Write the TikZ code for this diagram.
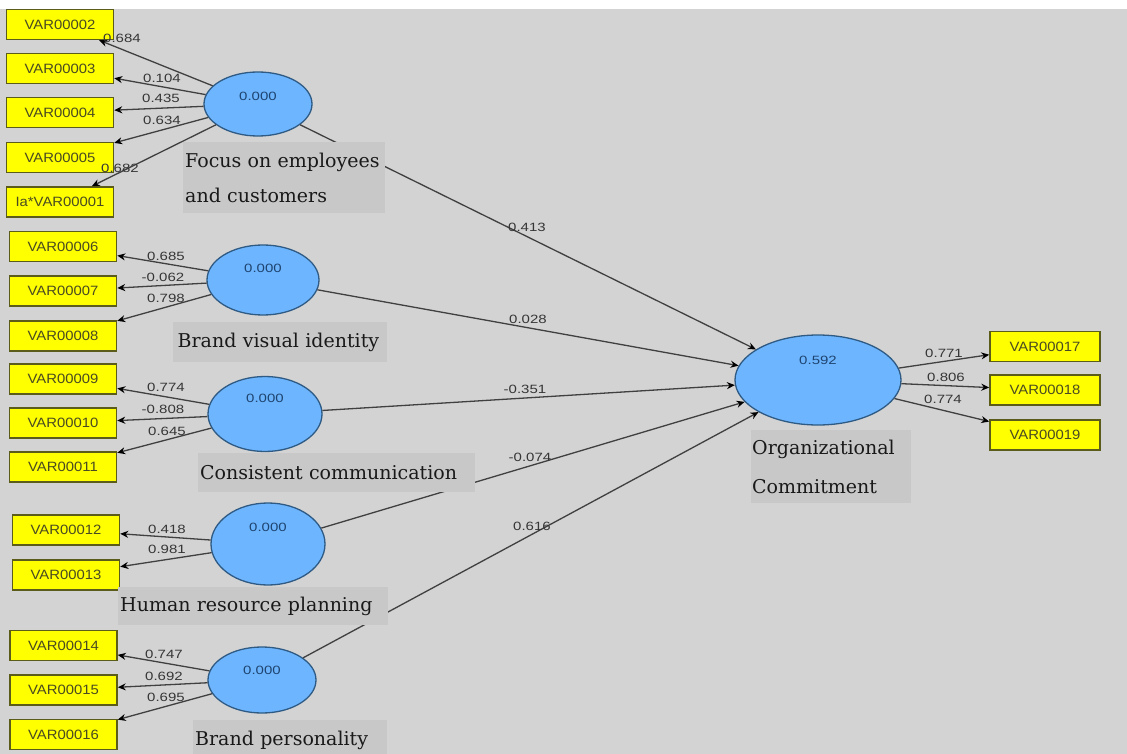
\documentclass[tikz,border=0pt]{standalone}
\usepackage{fontspec}
\setmainfont{DejaVu Serif}
\newfontfamily\numfont[FakeStretch=1.25]{Liberation Sans}
\newfontfamily\varfont[FakeStretch=1.1]{Liberation Sans}
\usetikzlibrary{arrows.meta,shapes.geometric}
\definecolor{bg}{HTML}{D3D3D3}
\definecolor{lblbg}{HTML}{C8C8C8}
\definecolor{ellfill}{HTML}{6DB6FF}
\definecolor{elldraw}{HTML}{2E5A84}
\definecolor{ylw}{HTML}{FFFF00}
\definecolor{ylwdraw}{HTML}{5C5C1A}
\definecolor{vartext}{HTML}{4A4A22}
\definecolor{edgecol}{HTML}{404040}
\definecolor{numcol}{HTML}{363636}
\definecolor{valcol}{HTML}{1F4470}
\begin{document}
\begin{tikzpicture}[x=1pt,y=-1pt,
  ind/.style={draw=ylwdraw, line width=1.5pt, fill=ylw, minimum width=107pt, minimum height=30pt,
    inner sep=0pt, text=vartext, font=\varfont\fontsize{13.5}{13.5}\selectfont},
  lat/.style={ellipse, draw=elldraw, line width=1.3pt, fill=ellfill, inner sep=0pt},
  val/.style={inner sep=0pt, text=valcol, font=\numfont\fontsize{12}{12}\selectfont},
  num/.style={inner sep=0pt, text=numcol, font=\numfont\fontsize{12}{12}\selectfont},
  conn/.style={draw=edgecol, line width=1.3pt, -{Stealth[length=8pt,width=7pt,color=black]}},
  lbox/.style={fill=lblbg, inner xsep=2pt, inner ysep=0pt, align=left, anchor=north west, text=black!90}
]
\useasboundingbox (0,0) rectangle (1127,754);
\fill[white] (0,0) rectangle (1127,754);
\fill[bg] (0,9) rectangle (1127,754);

% indicator boxes
\node[ind] (v2) at (60,24.5) {VAR00002};
\node[ind] (v3) at (60,68.5) {VAR00003};
\node[ind] (v4) at (60,112.5) {VAR00004};
\node[ind] (v5) at (60,157.5) {VAR00005};
\node[ind] (v1) at (60,202) {Ia*VAR00001};
\node[ind] (v6) at (63,246.5) {VAR00006};
\node[ind] (v7) at (63,291) {VAR00007};
\node[ind] (v8) at (63,336) {VAR00008};
\node[ind] (v9) at (63,379) {VAR00009};
\node[ind] (v10) at (63,423) {VAR00010};
\node[ind] (v11) at (63,467) {VAR00011};
\node[ind] (v12) at (66,530) {VAR00012};
\node[ind] (v13) at (66,575) {VAR00013};
\node[ind] (v14) at (63.5,645.5) {VAR00014};
\node[ind] (v15) at (63.5,690) {VAR00015};
\node[ind] (v16) at (63.5,734.5) {VAR00016};
\node[ind, minimum width=110pt] (v17) at (1045,346.5) {VAR00017};
\node[ind, minimum width=110pt] (v18) at (1045,390) {VAR00018};
\node[ind, minimum width=110pt] (v19) at (1045,435) {VAR00019};

% latent variables
\node[lat, minimum width=108pt, minimum height=64pt] (e1) at (258,104) {};
\node[lat, minimum width=112pt, minimum height=70pt] (e2) at (263,280) {};
\node[lat, minimum width=114pt, minimum height=75pt] (e3) at (265,414) {};
\node[lat, minimum width=114pt, minimum height=82pt] (e4) at (268,544) {};
\node[lat, minimum width=108pt, minimum height=66pt] (e5) at (262,680) {};
\node[lat, minimum width=166pt, minimum height=90pt] (org) at (818,380) {};

% outer model arrows
\draw[conn] (e1) -- (v2);
\draw[conn] (e1) -- (v3);
\draw[conn] (e1) -- (v4);
\draw[conn] (e1) -- (v5);
\draw[conn] (e1) -- (v1);
\draw[conn] (e2) -- (v6);
\draw[conn] (e2) -- (v7);
\draw[conn] (e2) -- (v8);
\draw[conn] (e3) -- (v9);
\draw[conn] (e3) -- (v10);
\draw[conn] (e3) -- (v11);
\draw[conn] (e4) -- (v12);
\draw[conn] (e4) -- (v13);
\draw[conn] (e5) -- (v14);
\draw[conn] (e5) -- (v15);
\draw[conn] (e5) -- (v16);
\draw[conn] (org) -- (v17);
\draw[conn] (org) -- (v18);
\draw[conn] (org) -- (v19);

% structural paths
\draw[conn] (e1) -- (org);
\draw[conn] (e2) -- (org);
\draw[conn] (e3) -- (org);
\draw[conn] (e4) -- (org);
\draw[conn] (e5) -- (org);

% construct name boxes
\node[lbox, text width=198pt, minimum height=71pt, font=\fontsize{19}{35}\selectfont] (t1) at (183,142) {Focus on employees\\and customers};
\node[lbox, text width=205pt, inner xsep=4.5pt, minimum height=40pt, font=\fontsize{19}{19}\selectfont] (t2) at (173,322) {Brand visual identity};
\node[lbox, text width=273pt, minimum height=39pt, font=\fontsize{19}{19}\selectfont] (t3) at (198,453) {Consistent communication};
\node[lbox, text width=266pt, minimum height=38pt, font=\fontsize{19}{19}\selectfont] (t4) at (118,587) {Human resource planning};
\node[lbox, text width=190pt, minimum height=40pt, font=\fontsize{19}{19}\selectfont] (t5) at (193,720) {Brand personality};
\node[lbox, text width=158pt, inner xsep=1pt, minimum height=73pt, font=\fontsize{19}{39}\selectfont] (t6) at (751,430) {Organizational\\Commitment};

% latent values
\node[val] (e1v) at (258,96) {0.000};
\node[val] (e2v) at (263,268) {0.000};
\node[val] (e3v) at (265,398) {0.000};
\node[val] (e4v) at (268,527) {0.000};
\node[val] (e5v) at (262,670) {0.000};
\node[val] (orgv) at (818,360) {0.592};

% loadings
\node[num] (l2) at (122,38) {0.684};
\node[num] (l3) at (162,78) {0.104};
\node[num] (l4) at (161,98) {0.435};
\node[num] (l5) at (162,120) {0.634};
\node[num] (l1) at (120,168) {0.682};
\node[num] (l6) at (166,256) {0.685};
\node[num] (l7) at (163,277) {-0.062};
\node[num] (l8) at (166,298) {0.798};
\node[num] (l9) at (166,387) {0.774};
\node[num] (l10) at (163,409) {-0.808};
\node[num] (l11) at (167,431) {0.645};
\node[num] (l12) at (167,529) {0.418};
\node[num] (l13) at (167,549) {0.981};
\node[num] (l14) at (164,654) {0.747};
\node[num] (l15) at (164,676) {0.692};
\node[num] (l16) at (166,697) {0.695};
\node[num] (l17) at (944,353) {0.771};
\node[num] (l18) at (946,377) {0.806};
\node[num] (l19) at (943,399) {0.774};

% path coefficients
\node[num] (p1) at (527,227) {0.413};
\node[num] (p2) at (528,319) {0.028};
\node[num] (p3) at (525,389) {-0.351};
\node[num] (p4) at (530,457) {-0.074};
\node[num] (p5) at (532,526) {0.616};
\end{tikzpicture}
\end{document}
